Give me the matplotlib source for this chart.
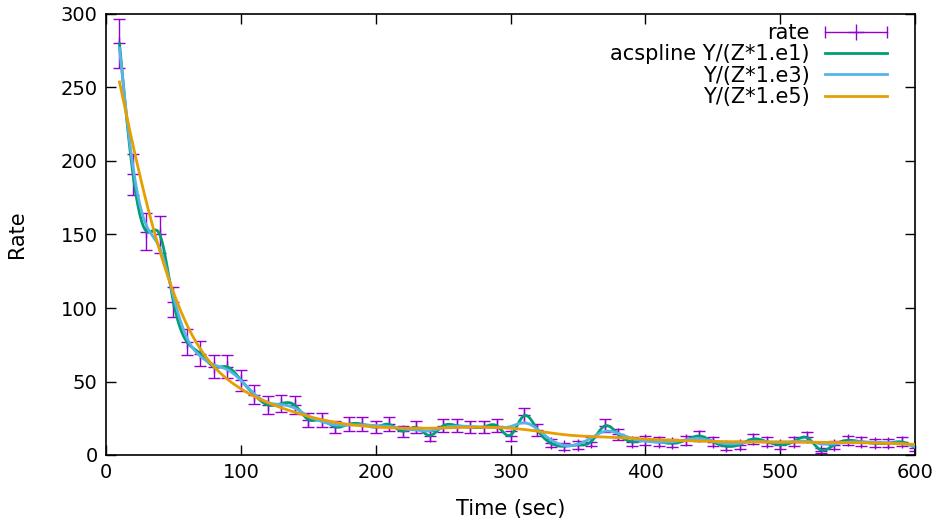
import numpy as np
import matplotlib.pyplot as plt
from matplotlib.lines import Line2D
from matplotlib.legend_handler import HandlerBase

# ── Data: time, count rate and its error ──────────────────
time = [10, 20, 30, 40, 50, 60, 70, 80, 90, 100,
        110, 120, 130, 140, 150, 160, 170, 180, 190, 200,
        210, 220, 230, 240, 250, 260, 270, 280, 290, 300,
        310, 320, 330, 340, 350, 360, 370, 380, 390, 400,
        410, 420, 430, 440, 450, 460, 470, 480, 490, 500,
        510, 520, 530, 540, 550, 560, 570, 580, 590, 600]
rate = [280, 191, 152, 150, 104, 77, 69, 60, 60, 51,
        41, 34, 35, 34, 24, 24, 19, 21, 21, 19,
        21, 16, 19, 13, 20, 20, 19, 19, 20, 13,
        27, 17, 8, 6, 7, 9, 20, 14, 9, 10,
        9, 8, 10, 13, 9, 6, 7, 11, 9, 7,
        9, 12, 3, 7, 10, 9, 8, 8, 9, 5]
err = [16.73, 13.82, 12.33, 12.25, 10.20, 8.77, 8.31, 7.75, 7.75, 7.14,
       6.40, 5.83, 5.92, 5.83, 4.90, 4.90, 4.36, 4.58, 4.58, 4.36,
       4.58, 4.00, 4.36, 3.61, 4.47, 4.47, 4.36, 4.36, 4.47, 3.61,
       5.20, 4.12, 2.83, 2.45, 2.65, 3.00, 4.47, 3.74, 3.00, 3.16,
       3.00, 2.83, 3.16, 3.61, 3.00, 2.45, 2.65, 3.32, 3.00, 2.65,
       3.00, 3.46, 1.73, 2.65, 3.16, 3.00, 2.83, 2.83, 3.00, 2.24]

# smoothing weight divisors for the three acsplines
scales = [1.e1, 1.e3, 1.e5]
labels = ['acspline Y/(Z*1.e1)', 'Y/(Z*1.e3)', 'Y/(Z*1.e5)']
colors = ['#009e73', '#56b4e9', '#e69f00']


# ── Natural smoothing spline (Reinsch) ────────────────────
def acspline(x, y, w, n_eval=600):
    x = np.asarray(x, float)
    y = np.asarray(y, float)
    n = len(x)
    h = np.diff(x)
    Q = np.zeros((n, n - 2))
    R = np.zeros((n - 2, n - 2))
    for j in range(1, n - 1):
        k = j - 1
        Q[j - 1, k] = 1 / h[j - 1]
        Q[j, k] = -1 / h[j - 1] - 1 / h[j]
        Q[j + 1, k] = 1 / h[j]
        R[k, k] = (h[j - 1] + h[j]) / 3
        if k + 1 < n - 2:
            R[k, k + 1] = R[k + 1, k] = h[j] / 6
    K = Q @ np.linalg.solve(R, Q.T)
    W = np.diag(w)
    g = np.linalg.solve(W + K, W @ y)
    gam = np.zeros(n)
    gam[1:-1] = np.linalg.solve(R, Q.T @ g)

    xs = np.linspace(x[0], x[-1], n_eval)
    i = np.clip(np.searchsorted(x, xs) - 1, 0, n - 2)
    a = xs - x[i]
    b = x[i + 1] - xs
    hi = h[i]
    ys = (a * g[i + 1] + b * g[i]) / hi - a * b / 6 * (
        (1 + a / hi) * gam[i + 1] + (1 + b / hi) * gam[i])
    return xs, ys


# ── Legend sample for the error bars (horizontal, gnuplot style) ──
class ErrKey(HandlerBase):
    def create_artists(self, legend, orig, xd, yd, w, h, fs, trans):
        y = h / 2 - yd
        x0, x1 = -xd, -xd + w
        c = '#9400d3'
        arts = [Line2D([x0, x1], [y, y], color=c, lw=1),
                Line2D([x0, x1], [y, y], ls='none', marker='|', ms=8, mew=1, color=c),
                Line2D([(x0 + x1) / 2], [y], ls='none', marker='+', ms=12, mew=1, color=c)]
        for a in arts:
            a.set_transform(trans)
        return arts


# ── Plot ──────────────────────────────────────────────────
plt.rcParams['font.family'] = ['DejaVu Sans']
fig = plt.figure(figsize=(9.39, 5.20), dpi=100)
ax = fig.add_axes([106 / 939, 1 - 455 / 520, 809 / 939, 441 / 520])

eb = ax.errorbar(time, rate, yerr=err, fmt='+', color='#9400d3', ms=9, mew=1,
                 elinewidth=1, capsize=4, capthick=1, zorder=2)

handles = [eb]
for s, lab, col in zip(scales, labels, colors):
    wts = np.asarray(rate) / (np.asarray(err) * s)
    xs, ys = acspline(time, rate, wts)
    ln, = ax.plot(xs, ys, color=col, lw=2.0, label=lab, zorder=3)
    handles.append(ln)

ax.set_xlim(0, 600)
ax.set_ylim(0, 300)
ax.set_xticks(range(0, 601, 100))
ax.set_yticks(range(0, 301, 50))
ax.tick_params(direction='in', length=7, width=1, labelsize=14,
               top=True, right=True, pad=6)
for sp in ax.spines.values():
    sp.set_linewidth(1.2)
ax.set_xlabel('Time (sec)', fontsize=15, labelpad=12)
ax.set_ylabel('Rate', fontsize=15, labelpad=24)

leg = ax.legend(handles, ['rate'] + labels, handler_map={type(eb): ErrKey()},
                loc='upper right', bbox_to_anchor=(0.9654, 0.98),
                frameon=False, markerfirst=False, fontsize=15,
                handlelength=3.0, handletextpad=0.72, labelspacing=0.07,
                borderpad=0, borderaxespad=0)

fig.savefig('out.png', dpi=100)
